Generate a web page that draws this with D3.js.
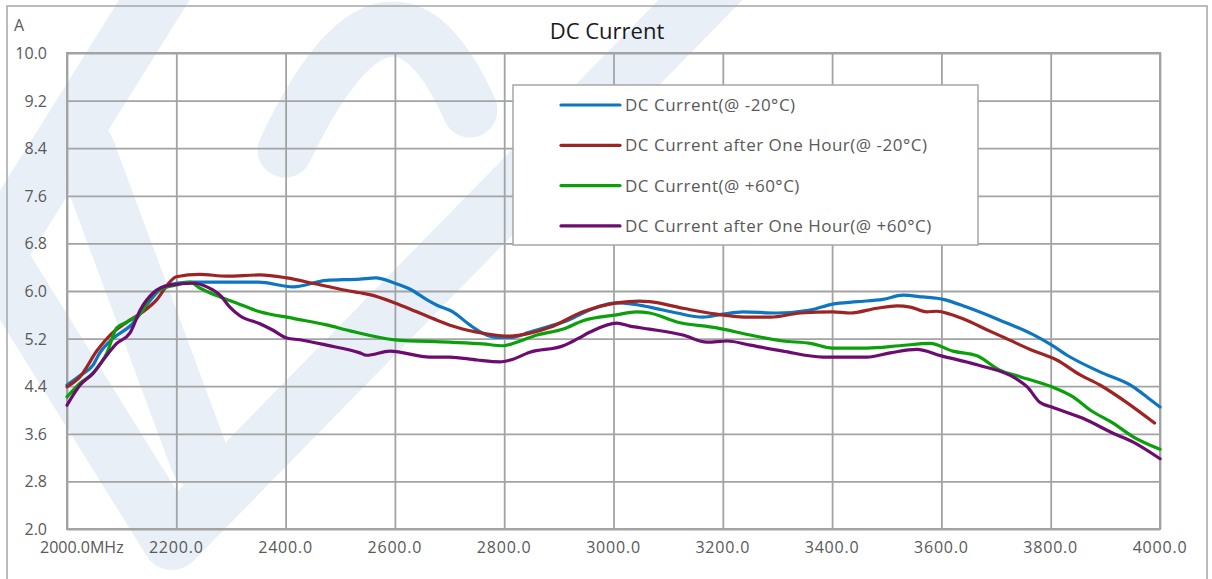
<!DOCTYPE html>
<html>
<head>
<meta charset="utf-8">
<script src="https://cdn.jsdelivr.net/npm/d3@7"></script>
<style>
  body { margin: 0; background: #fff; }
  svg { display: block; font-family: "Open Sans", sans-serif; }
  .tick-label { fill: #595959; font-size: 16px; }
  .legend-label { fill: #595959; font-size: 17px; letter-spacing: 0.5px; }
  .grid line { stroke: #a3a3a3; stroke-width: 1.8; }
  .grid path { display: none; }
</style>
</head>
<body>
<svg id="chart" width="1212" height="579"></svg>
<script>
// values (MHz, A)
const xTicks = [2000, 2200, 2400, 2600, 2800, 3000, 3200, 3400, 3600, 3800, 4000];
const yTicks = [2.0, 2.8, 3.6, 4.4, 5.2, 6.0, 6.8, 7.6, 8.4, 9.2, 10.0];

const dcMinus20 = [
  [2000, 4.42], [2024, 4.58], [2048, 4.76], [2060, 4.96], [2084, 5.2], [2121, 5.46], [2146, 5.77],
  [2170, 6.02], [2200, 6.13], [2230, 6.15], [2290, 6.15], [2350, 6.15], [2414, 6.07], [2475, 6.18],
  [2536, 6.2], [2565, 6.22], [2600, 6.13], [2628, 6.03], [2659, 5.85], [2677, 5.76], [2706, 5.65],
  [2737, 5.43], [2761, 5.29], [2787, 5.22], [2811, 5.22], [2847, 5.31], [2884, 5.41], [2915, 5.5],
  [2944, 5.63], [2981, 5.76], [3006, 5.8], [3035, 5.78], [3066, 5.73], [3116, 5.63], [3163, 5.56],
  [3200, 5.61], [3237, 5.65], [3299, 5.63], [3360, 5.68], [3401, 5.78], [3446, 5.82], [3493, 5.86],
  [3530, 5.93], [3566, 5.9], [3603, 5.86], [3646, 5.73], [3707, 5.51], [3767, 5.27], [3802, 5.09],
  [3830, 4.92], [3890, 4.64], [3951, 4.39], [3976, 4.22], [4000, 4.05],
];

const dcMinus20Hour = [
  [2000, 4.39], [2024, 4.56], [2055, 5.0], [2079, 5.26], [2110, 5.48], [2139, 5.65], [2164, 5.85],
  [2188, 6.15], [2200, 6.24], [2243, 6.28], [2292, 6.25], [2353, 6.27], [2402, 6.22], [2450, 6.13],
  [2500, 6.03], [2536, 5.97], [2554, 5.94], [2600, 5.8], [2640, 5.65], [2677, 5.51], [2713, 5.39],
  [2761, 5.29], [2811, 5.24], [2847, 5.29], [2884, 5.39], [2944, 5.65], [3006, 5.8], [3048, 5.83],
  [3066, 5.82], [3127, 5.71], [3189, 5.61], [3250, 5.56], [3287, 5.56], [3342, 5.63], [3401, 5.65],
  [3433, 5.63], [3482, 5.71], [3519, 5.75], [3543, 5.73], [3573, 5.65], [3592, 5.66], [3616, 5.61],
  [3646, 5.51], [3683, 5.35], [3707, 5.25], [3726, 5.17], [3767, 5.0], [3811, 4.84], [3854, 4.59],
  [3890, 4.42], [3940, 4.12], [3990, 3.78],
];

const dcPlus60 = [
  [2000, 4.22], [2024, 4.45], [2048, 4.62], [2073, 4.96], [2091, 5.38], [2110, 5.48], [2139, 5.68],
  [2152, 5.9], [2170, 6.02], [2200, 6.1], [2225, 6.15], [2243, 6.05], [2280, 5.9], [2304, 5.82],
  [2353, 5.65], [2414, 5.54], [2475, 5.43], [2518, 5.33], [2600, 5.18], [2700, 5.14], [2761, 5.11],
  [2798, 5.08], [2823, 5.14], [2860, 5.26], [2908, 5.36], [2944, 5.5], [3006, 5.6], [3042, 5.65],
  [3066, 5.63], [3116, 5.48], [3189, 5.38], [3250, 5.26], [3310, 5.16], [3360, 5.12], [3401, 5.04],
  [3464, 5.04], [3524, 5.08], [3579, 5.12], [3621, 4.99], [3665, 4.91], [3707, 4.67], [3744, 4.56],
  [3802, 4.39], [3841, 4.22], [3872, 4.0], [3914, 3.78], [3951, 3.55], [4000, 3.34],
];

const dcPlus60Hour = [
  [2000, 4.08], [2024, 4.42], [2048, 4.62], [2066, 4.84], [2091, 5.12], [2115, 5.29], [2134, 5.68],
  [2158, 5.97], [2188, 6.1], [2231, 6.13], [2256, 6.07], [2280, 5.93], [2298, 5.73], [2317, 5.58],
  [2353, 5.45], [2377, 5.34], [2402, 5.21], [2426, 5.18], [2475, 5.09], [2536, 4.96], [2548, 4.92],
  [2591, 4.99], [2664, 4.89], [2700, 4.89], [2750, 4.84], [2792, 4.81], [2811, 4.84], [2847, 4.97],
  [2908, 5.08], [2933, 5.19], [2957, 5.31], [3006, 5.46], [3030, 5.41], [3066, 5.36], [3127, 5.26],
  [3171, 5.14], [3208, 5.16], [3250, 5.09], [3310, 4.99], [3383, 4.89], [3464, 4.89], [3506, 4.96],
  [3555, 5.02], [3600, 4.91], [3665, 4.76], [3738, 4.52], [3757, 4.39], [3780, 4.13], [3802, 4.05],
  [3859, 3.86], [3914, 3.61], [3951, 3.46], [4000, 3.18],
];

const seriesNames = [
  "DC Current(@ -20°C)",
  "DC Current after One Hour(@ -20°C)",
  "DC Current(@ +60°C)",
  "DC Current after One Hour(@ +60°C)",
];
const seriesColors = ["#0e76c0", "#9e2424", "#0aa00a", "#6c0c70"];
const seriesData = [dcMinus20, dcMinus20Hour, dcPlus60, dcPlus60Hour];

const svg = d3.select("#chart");
const plot = { left: 67, right: 1160, top: 53, bottom: 529 };

// faint logo watermark behind the chart
const wm = svg.append("g").attr("fill", "none").attr("stroke", "#e8eff7")
  .attr("stroke-linecap", "round").attr("stroke-linejoin", "round");
wm.append("path").attr("stroke-width", 60).attr("d", "M170,-25 L-5,255 L172,540 L725,-25");
wm.append("path").attr("stroke-width", 60).attr("d", "M85,150 L200,460");
wm.append("path").attr("stroke-width", 55).attr("d", "M285,150 Q390,-70 470,110");

// outer frame
svg.append("rect")
  .attr("x", 7).attr("y", 6).attr("width", 1200).attr("height", 590)
  .attr("fill", "none").attr("stroke", "#a6a6a6").attr("stroke-width", 1.5);

const x = d3.scaleLinear().domain([2000, 4000]).range([plot.left, plot.right]);
const y = d3.scaleLinear().domain([2, 10]).range([plot.bottom, plot.top]);

// grid
svg.append("g").attr("class", "grid")
  .attr("transform", `translate(0,${plot.bottom})`)
  .call(d3.axisBottom(x).tickValues(xTicks).tickSize(-(plot.bottom - plot.top)).tickFormat(""));
svg.append("g").attr("class", "grid")
  .attr("transform", `translate(${plot.left},0)`)
  .call(d3.axisLeft(y).tickValues(yTicks).tickSize(-(plot.right - plot.left)).tickFormat(""));
svg.append("rect")
  .attr("x", plot.left).attr("y", plot.top)
  .attr("width", plot.right - plot.left).attr("height", plot.bottom - plot.top)
  .attr("fill", "none").attr("stroke", "#a3a3a3").attr("stroke-width", 2);

// tick labels
svg.append("g").selectAll("text").data(yTicks).join("text")
  .attr("class", "tick-label")
  .attr("x", 47).attr("y", (d) => y(d) + 6)
  .attr("text-anchor", "end")
  .text((d) => d.toFixed(1));

// first x label carries the unit
svg.append("g").selectAll("text").data(xTicks).join("text")
  .attr("class", "tick-label")
  .attr("x", (d) => (d === 2000 ? x(d) - 27 : x(d)))
  .attr("y", 553)
  .attr("text-anchor", (d) => (d === 2000 ? "start" : "middle"))
  .attr("letter-spacing", (d) => (d === 2000 ? "0" : "0.8"))
  .text((d) => (d === 2000 ? `${d.toFixed(1)}MHz` : d.toFixed(1)));

svg.append("text").attr("class", "tick-label")
  .attr("x", 14).attr("y", 31).text("A");

// title
svg.append("text")
  .attr("x", 607).attr("y", 39)
  .attr("text-anchor", "middle")
  .attr("font-size", 22).attr("fill", "#1a1a1a")
  .text("DC Current");

// series
const line = d3.line()
  .x((d) => x(d[0]))
  .y((d) => y(d[1]))
  .curve(d3.curveMonotoneX);

seriesData.forEach((data, i) => {
  svg.append("path")
    .datum(data)
    .attr("fill", "none")
    .attr("stroke", seriesColors[i])
    .attr("stroke-width", 3.2)
    .attr("stroke-linejoin", "round")
    .attr("stroke-linecap", "round")
    .attr("d", line);
});

// legend
const legend = svg.append("g");
legend.append("rect")
  .attr("x", 513).attr("y", 85).attr("width", 465).attr("height", 160)
  .attr("fill", "#fff").attr("stroke", "#a6a6a6").attr("stroke-width", 1.5);

seriesNames.forEach((name, i) => {
  const ly = 105 + i * 40.3;
  legend.append("line")
    .attr("x1", 561).attr("x2", 620).attr("y1", ly).attr("y2", ly)
    .attr("stroke", seriesColors[i]).attr("stroke-width", 3.2)
    .attr("stroke-linecap", "round");
  legend.append("text").attr("class", "legend-label")
    .attr("x", 625).attr("y", ly + 6)
    .text(name);
});
</script>
</body>
</html>
